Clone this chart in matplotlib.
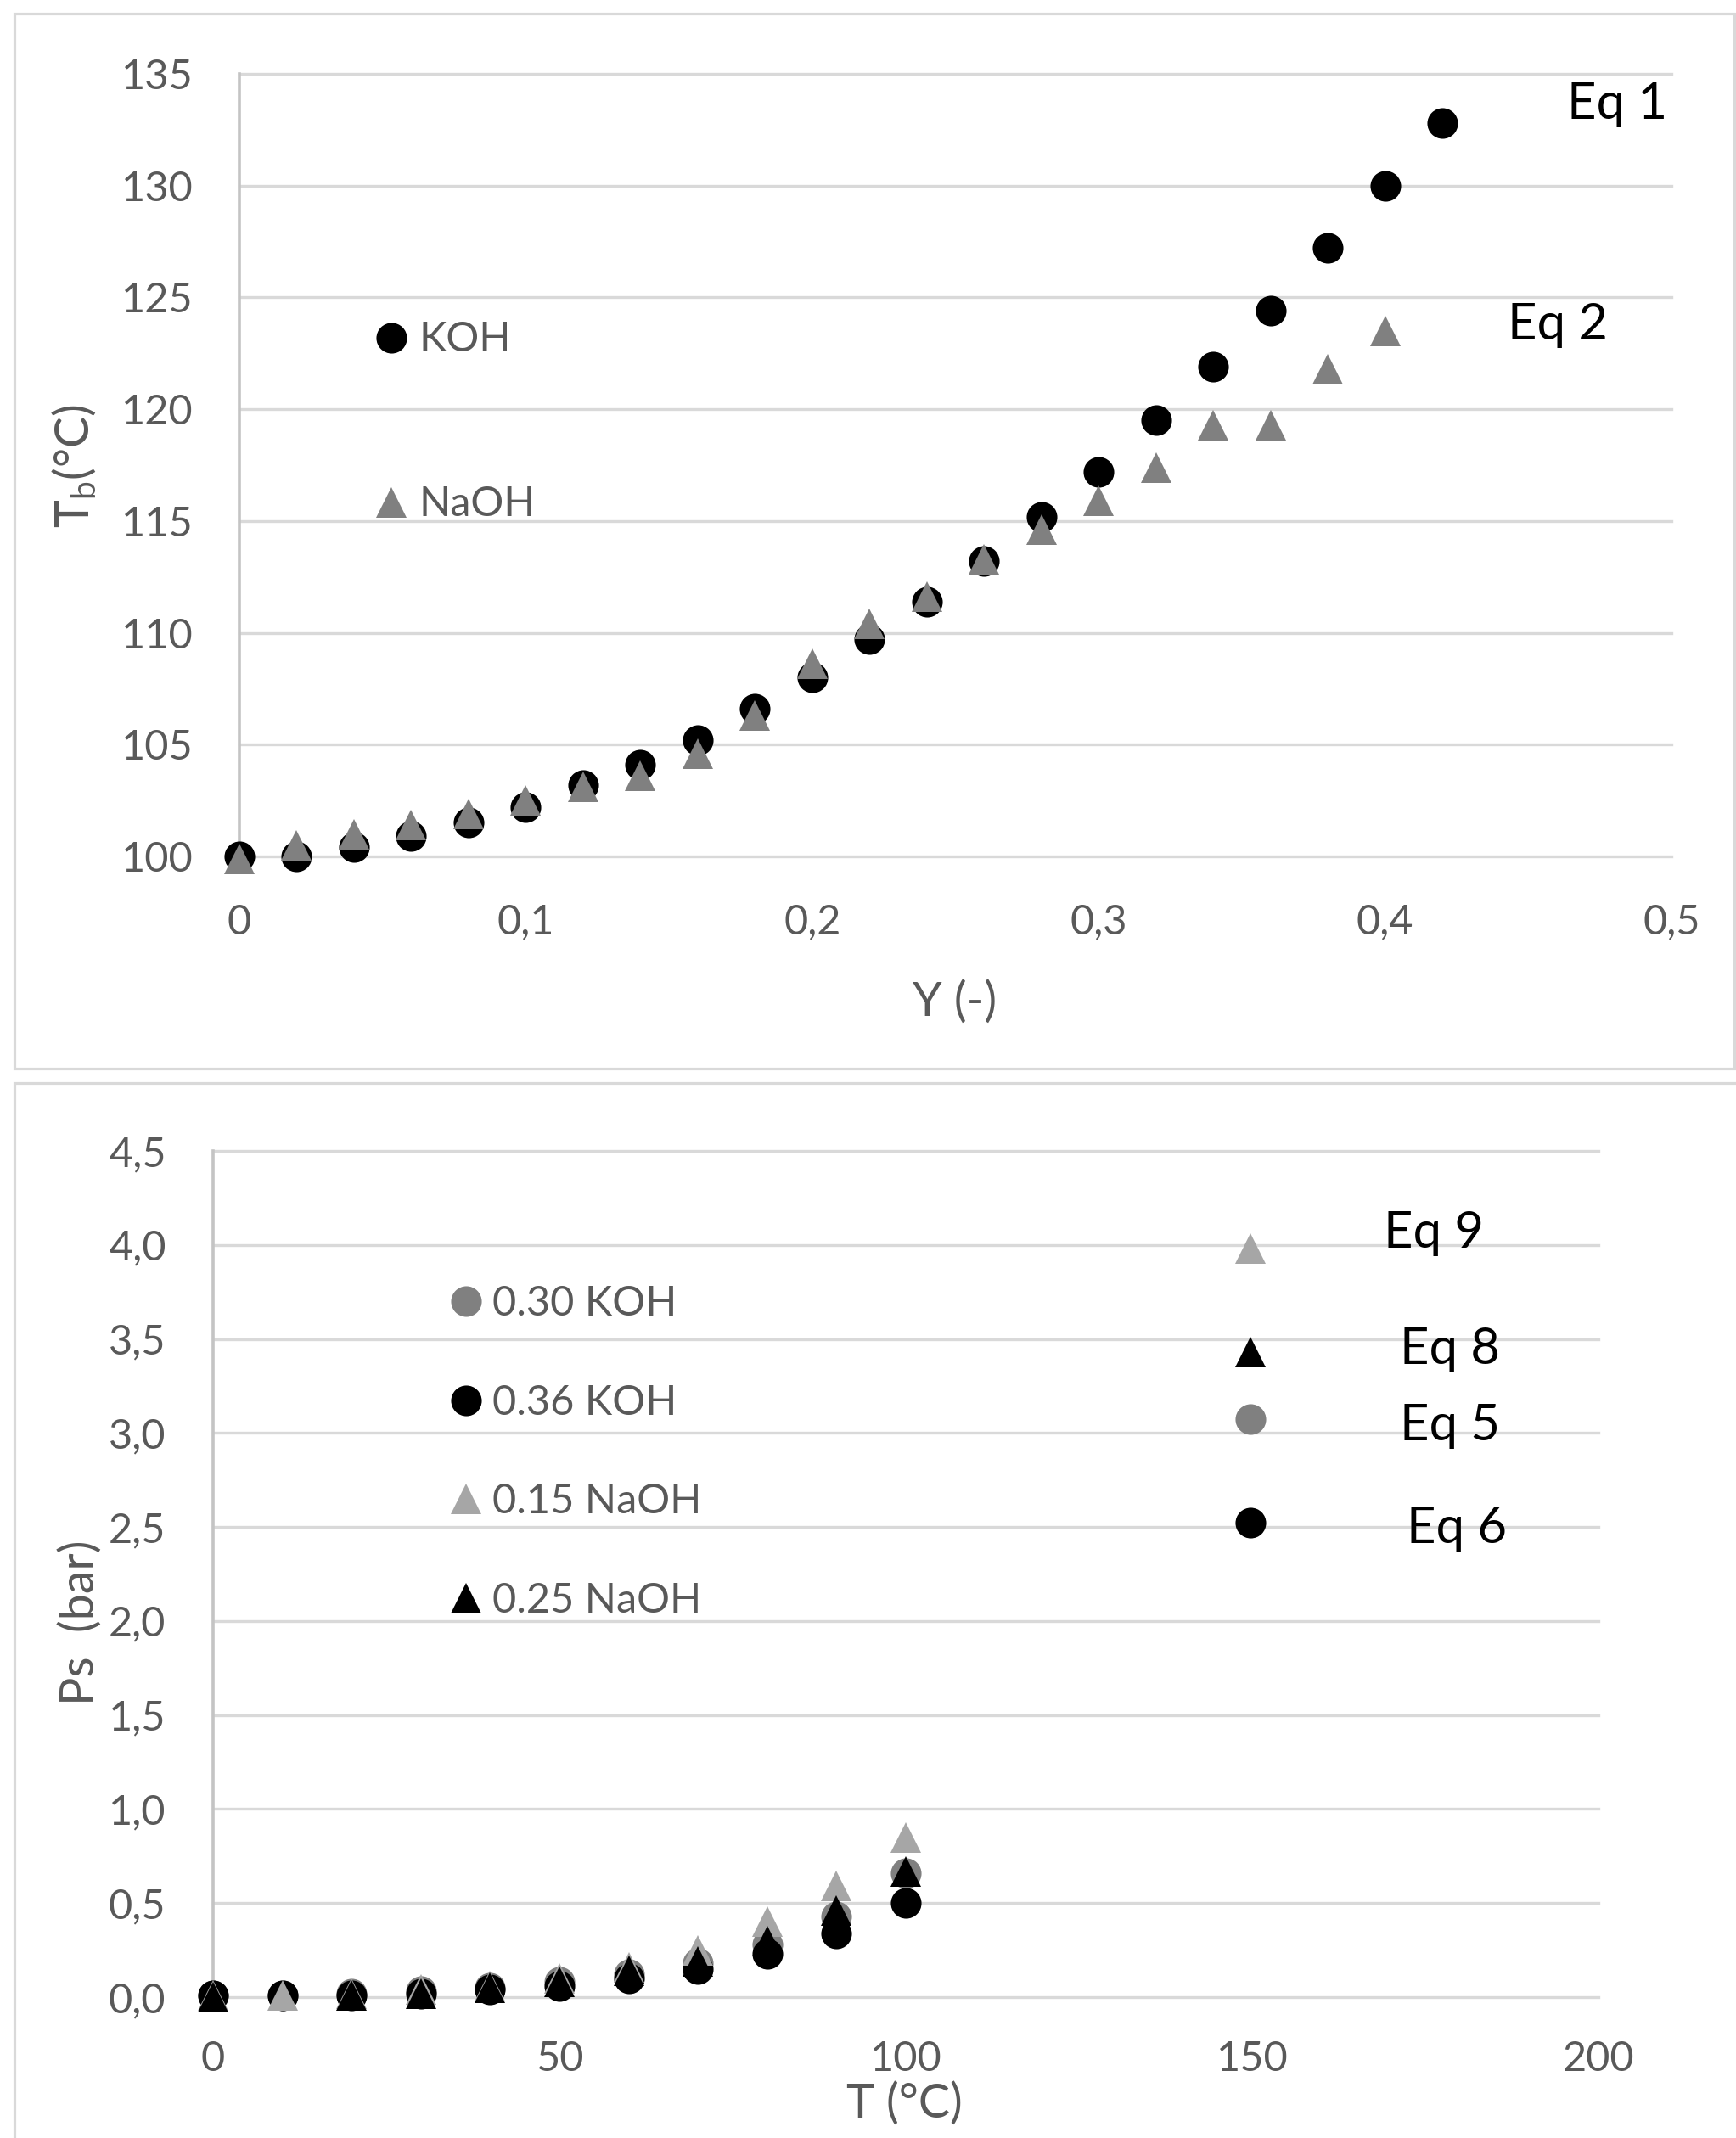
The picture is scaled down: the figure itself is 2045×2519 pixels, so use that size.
import numpy as np
import matplotlib
matplotlib.use("Agg")
import matplotlib.pyplot as plt
from matplotlib.lines import Line2D
from matplotlib.legend import Legend
from matplotlib.patches import Rectangle

# ---------------- data ----------------
# Top chart: boiling temperature vs mass fraction Y
y_frac_koh = [0.00, 0.02, 0.04, 0.06, 0.08, 0.10, 0.12, 0.14, 0.16, 0.18, 0.20,
              0.22, 0.24, 0.26, 0.28, 0.30, 0.32, 0.34, 0.36, 0.38, 0.40, 0.42]
tb_koh = [100.0, 100.0, 100.4, 100.9, 101.5, 102.2, 103.2, 104.1, 105.2, 106.6, 108.0,
          109.7, 111.4, 113.2, 115.2, 117.2, 119.5, 121.9, 124.4, 127.2, 130.0, 132.8]
y_frac_naoh = [0.00, 0.02, 0.04, 0.06, 0.08, 0.10, 0.12, 0.14, 0.16, 0.18, 0.20,
               0.22, 0.24, 0.26, 0.28, 0.30, 0.32, 0.34, 0.36, 0.38, 0.40]
tb_naoh = [99.9, 100.5, 101.0, 101.4, 101.9, 102.5, 103.1, 103.6, 104.6, 106.3, 108.6,
           110.4, 111.6, 113.3, 114.6, 115.9, 117.4, 119.3, 119.3, 121.8, 123.5]

top_xticks = [0.0, 0.1, 0.2, 0.3, 0.4, 0.5]
top_xticklabels = ["0", "0,1", "0,2", "0,3", "0,4", "0,5"]
top_yticks = [100, 105, 110, 115, 120, 125, 130, 135]
top_yticklabels = ["100", "105", "110", "115", "120", "125", "130", "135"]

# Bottom chart: saturation pressure vs temperature
temp_c = [0, 10, 20, 30, 40, 50, 60, 70, 80, 90, 100]
ps_koh030 = [0.01, 0.01, 0.02, 0.03, 0.05, 0.08, 0.12, 0.18, 0.28, 0.43, 0.66]
ps_koh036 = [0.01, 0.01, 0.01, 0.02, 0.04, 0.06, 0.10, 0.15, 0.23, 0.34, 0.50]
ps_naoh015 = [0.01, 0.01, 0.02, 0.04, 0.06, 0.10, 0.16, 0.25, 0.40, 0.59, 0.85]
ps_naoh025 = [0.00, np.nan, 0.01, 0.02, 0.05, 0.08, 0.14, 0.19, 0.30, 0.46, 0.67]

bot_xticks = [0, 50, 100, 150, 200]
bot_xticklabels = ["0", "50", "100", "150", "200"]
bot_yticks = [0.0, 0.5, 1.0, 1.5, 2.0, 2.5, 3.0, 3.5, 4.0, 4.5]
bot_yticklabels = ["0,0", "0,5", "1,0", "1,5", "2,0", "2,5", "3,0", "3,5", "4,0", "4,5"]

# ---------------- style ----------------
plt.rcParams['font.family'] = ['Lato', 'DejaVu Sans']
plt.rcParams['mathtext.fontset'] = 'custom'
plt.rcParams['mathtext.rm'] = 'Lato'
plt.rcParams['mathtext.it'] = 'Lato:italic'

W, H = 2045, 2519
fig = plt.figure(figsize=(W / 100, H / 100), dpi=100)
fig.patch.set_facecolor('white')

def fx(px):
    return px / W

def fy(py):
    return 1 - py / H

GRID = '#d9d9d9'
AXC = '#c4c4c4'
TXT = '#595959'
BLACK = '#000000'
GRAY = '#808080'
LGRAY = '#a6a6a6'
TICK_FS = 35
LABEL_FS = 40
EQ_FS = 43
MS = 26

# panel frames
fig.add_artist(Rectangle((fx(17), fy(1259)), fx(2043) - fx(17), (1259 - 16) / H,
                         transform=fig.transFigure, fill=False, ec=GRID, lw=2.3))
fig.add_artist(Rectangle((fx(17), fy(2560)), fx(2080) - fx(17), (2560 - 1276) / H,
                         transform=fig.transFigure, fill=False, ec=GRID, lw=2.3))


def style_axes(ax, xpad, ypad):
    for s in ['top', 'right', 'bottom']:
        ax.spines[s].set_visible(False)
    ax.spines['left'].set_color(AXC)
    ax.spines['left'].set_linewidth(2.6)
    ax.set_axisbelow(True)
    ax.yaxis.grid(True, color=GRID, lw=2.4)
    ax.xaxis.grid(False)
    for gl in ax.get_ygridlines():
        gl.set_clip_on(False)
    ax.tick_params(axis='both', length=0, labelsize=TICK_FS, labelcolor=TXT)
    ax.tick_params(axis='x', pad=xpad)
    ax.tick_params(axis='y', pad=ypad)
    ax.set_facecolor('none')


def key_marker(ax, px, py, marker, color, ms):
    h = Line2D([], [], ls='none', marker=marker, color=color, ms=ms, mew=0)
    leg = Legend(ax, [h], [''], loc='center',
                 bbox_to_anchor=(fx(px), fy(py)), bbox_transform=fig.transFigure,
                 frameon=False, borderpad=0, borderaxespad=0, handlelength=0,
                 handletextpad=0, fontsize=1, numpoints=1)
    ax.add_artist(leg)


# ---------------- top chart ----------------
ax1 = fig.add_axes([fx(282), fy(1009), fx(1969) - fx(282), (1009 - 87) / H])
ax1.plot(y_frac_koh, tb_koh, ls='none', marker='o', color=BLACK, ms=MS, mew=0,
         clip_on=False, zorder=3)
ax1.plot(y_frac_naoh, tb_naoh, ls='none', marker='^', color=GRAY, ms=MS, mew=0,
         clip_on=False, zorder=4)
ax1.set_xlim(0, 0.5)
ax1.set_ylim(100, 135)
ax1.set_xticks(top_xticks)
ax1.set_xticklabels(top_xticklabels)
ax1.set_yticks(top_yticks)
ax1.set_yticklabels(top_yticklabels)
style_axes(ax1, xpad=40, ypad=39)

key_marker(ax1, 461, 398, 'o', BLACK, MS)
key_marker(ax1, 461, 592, '^', GRAY, MS)
fig.text(fx(493), fy(414), "KOH", fontsize=TICK_FS, color=TXT, va='baseline', ha='left')
fig.text(fx(493), fy(608), "NaOH", fontsize=TICK_FS, color=TXT, va='baseline', ha='left')
fig.text(fx(1846), fy(140), "Eq 1", fontsize=EQ_FS, color=BLACK, va='baseline', ha='left')
fig.text(fx(1776), fy(400), "Eq 2", fontsize=EQ_FS, color=BLACK, va='baseline', ha='left')

fig.text(fx(1125), fy(1197), "Y (-)", fontsize=LABEL_FS, color=TXT, va='baseline', ha='center')
fig.text(fx(88), fy(549), r"T$_\mathrm{b}$(°C)", fontsize=LABEL_FS, color=TXT,
         rotation=90, va='center', ha='center')

# ---------------- bottom chart ----------------
ax2 = fig.add_axes([fx(251), fy(2353), fx(1883) - fx(251), (2353 - 1356) / H])
ax2.plot(temp_c, ps_koh030, ls='none', marker='o', color=GRAY, ms=MS, mew=0,
         clip_on=False, zorder=3)
ax2.plot(temp_c, ps_koh036, ls='none', marker='o', color=BLACK, ms=MS, mew=0,
         clip_on=False, zorder=4)
ax2.plot(temp_c, ps_naoh015, ls='none', marker='^', color=LGRAY, ms=MS, mew=0,
         clip_on=False, zorder=5)
ax2.plot(temp_c, ps_naoh025, ls='none', marker='^', color=BLACK, ms=MS, mew=0,
         clip_on=False, zorder=6)
ax2.set_xlim(0, 200)
ax2.set_ylim(0, 4.5)
ax2.set_xticks(bot_xticks)
ax2.set_xticklabels(bot_xticklabels)
ax2.set_yticks(bot_yticks)
ax2.set_yticklabels(bot_yticklabels)
style_axes(ax2, xpad=37, ypad=40)

legend_rows = [("0.30 KOH", 'o', GRAY, 1533),
               ("0.36 KOH", 'o', BLACK, 1650),
               ("0.15 NaOH", '^', LGRAY, 1766),
               ("0.25 NaOH", '^', BLACK, 1883)]
for label, mk, col, py in legend_rows:
    key_marker(ax2, 549, py, mk, col, MS)
    fig.text(fx(580), fy(py + 17), label, fontsize=TICK_FS, color=TXT,
             va='baseline', ha='left')

eq_rows = [("Eq 9", '^', LGRAY, 1471, 1630, 1470),
           ("Eq 8", '^', BLACK, 1593, 1649, 1607),
           ("Eq 5", 'o', GRAY, 1672, 1649, 1697),
           ("Eq 6", 'o', BLACK, 1794, 1657, 1818)]
for label, mk, col, my, tx, ty in eq_rows:
    key_marker(ax2, 1473, my, mk, col, MS)
    fig.text(fx(tx), fy(ty), label, fontsize=EQ_FS, color=BLACK, va='baseline', ha='left')

fig.text(fx(1065), fy(2495), "T (°C)", fontsize=LABEL_FS, color=TXT, va='baseline', ha='center')
fig.text(fx(95), fy(1912), "Ps  (bar)", fontsize=LABEL_FS, color=TXT,
         rotation=90, va='center', ha='center')

fig.savefig("out.png", dpi=100, facecolor='white')
